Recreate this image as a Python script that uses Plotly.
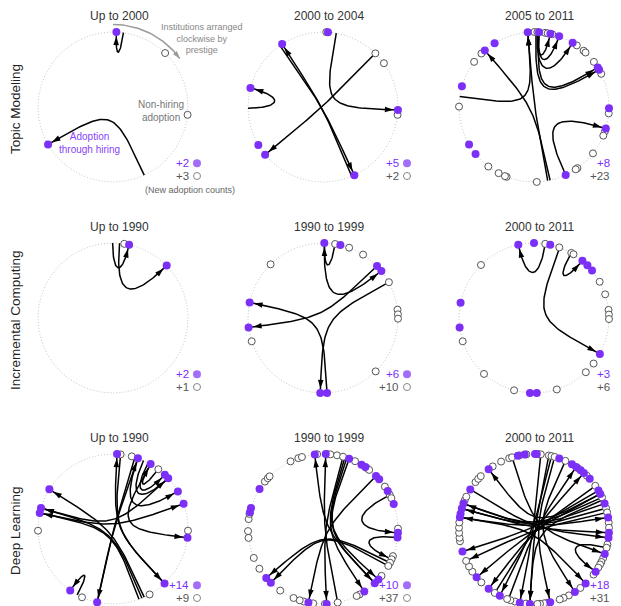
import numpy as np
import plotly.graph_objects as go

# ---------------- data ----------------
row_labels = ["Topic Modeling", "Incremental Computing", "Deep Learning"]
period_labels = [
    ["Up to 2000", "2000 to 2004", "2005 to 2011"],
    ["Up to 1990", "1990 to 1999", "2000 to 2011"],
    ["Up to 1990", "1990 to 1999", "2000 to 2011"],
]
new_hiring_counts = [[2, 5, 8], [2, 6, 3], [14, 10, 18]]
new_nonhiring_counts = [[3, 2, 23], [1, 10, 6], [9, 37, 31]]

# Institution positions: degrees clockwise from top (prestige order)
# Edges: (PhD institution angle, hiring institution angle)
tm1_hiring = [2.6, 240]
tm1_nonhiring = [44, 96]
tm1_edges = [(8, 2.6), (155.4, 240)]

tm2_hiring = [3.8, 92.3, 155.3, 230.5, 239.6, 284.7, 327]
tm2_nonhiring = [2.5, 44.3, 54.3, 96]
tm2_edges = [(10.2, 92.3), (269, 284.7), (325, 155.3), (157.5, 327), (44.3, 230.5)]

tm3_hiring = [355.2, 3.8, 12.6, 19.6, 31, 58.2, 60.2, 91, 106.7, 155, 231.2, 240,
              286, 319, 328.3]
tm3_nonhiring = [0.3, 2.6, 8.5, 10.5, 14.1, 34.8, 41.4, 43.4, 53, 63.7, 94.9, 109,
                 112.5, 128.2, 144.6, 146.2, 177.9, 201.4, 202.8, 208.1, 217.5,
                 270.3, 307, 315.5]
tm3_edges = [(278, 355.2), (167.6, 319), (169.5, 355.2), (3, 12.6), (3.5, 19.6),
             (2.5, 31), (1.5, 60.2), (4, 58.2), (155, 106.7)]

ic1_hiring = [12.4, 45.7]
ic1_nonhiring = [8.6]
ic1_edges = [(359.7, 12.4), (5, 45.7)]

ic2_hiring = [1, 13.4, 46.1, 51.1, 176.9, 182.1, 262.8, 282]
ic2_nonhiring = [9.3, 20.4, 32.3, 61.5, 83.6, 87.2, 90.5, 135.4, 251.9, 315.7]
ic2_edges = [(9.3, 1), (1, 51.1), (46.1, 262.8), (176.9, 282), (61.5, 182.1)]

ic3_hiring = [347.9, 0, 12.5, 40.2, 45.4, 50.7, 118.6, 177.9, 183.1, 262.7, 281.8]
ic3_nonhiring = [8.6, 19.7, 29.8, 31.8, 61.1, 71.6, 83.8, 87.4, 90.8, 127.4, 136.3,
                 162.3, 195.4, 221.8, 251.9, 315]
ic3_edges = [(8.6, 347.9), (29.8, 40.2), (20, 118.6)]

dl1_hiring = [3.1, 19.4, 30.1, 43.7, 47.4, 59.9, 70.3, 96.7, 136.6, 192.2, 214.8,
              282.3, 286.3, 302]
dl1_nonhiring = [5.8, 14.5, 37.2, 91.3, 150.8, 204.4, 268.7]
dl1_edges = [(136.6, 3.1), (5.8, 136.6), (17, 192.2), (192.2, 19.4), (155.4, 302),
             (157.3, 286.3), (159.7, 282.3), (47.4, 286.3), (19.4, 59.9),
             (282.3, 70.3), (30.1, 96.7), (37.2, 30.1), (28, 43.7), (24, 47.4),
             (208.5, 214.8)]

dl2_hiring = [353.7, 2.1, 20.4, 30.9, 34.4, 45, 48.5, 59.6, 70.5, 92.8, 96.6, 132.3,
              136.4, 146.6, 177.2, 191.2, 224.1, 229.2, 283, 286.3, 302.2]
dl2_nonhiring = [355.5, 3.4, 5.6, 10.8, 15.5, 25.3, 35.5, 38, 55.6, 62.9, 65.7, 89.7,
                 111.2, 113.8, 116.7, 119.5, 128.7, 150.9, 153.3, 168.7, 178.5,
                 187.5, 194.8, 198.1, 203.1, 214.8, 238, 247.3, 263.2, 268.4, 277.6,
                 281.6, 309.2, 312.6, 314.6, 334.4, 340.8, 343.7]
dl2_edges = [(136.4, 353.7), (168.7, 2.1), (15.5, 177.2), (17, 146.6), (18.5, 132.3),
             (45, 191.2), (62.9, 92.8), (96.6, 113.8), (119.5, 224.1),
             (116.7, 229.2), (20.4, 136.4)]

dl3_hiring = [347.6, 352.9, 0.8, 2.1, 19.7, 30.4, 34.2, 38.5, 41.7, 48, 59.2, 62.1,
              70.2, 81.1, 92.8, 96.7, 109.4, 124.7, 136.5, 147, 167.5, 183.1, 190.9,
              207.1, 217.2, 229.9, 252.5, 279, 281.7, 285.8, 289.8, 301.8, 322.8]
dl3_nonhiring = [334, 340.7, 343, 348.9, 354.2, 3.4, 5.2, 11.4, 13.5, 16, 24.7, 35.9,
                 44.8, 54.8, 65.1, 73.9, 77.2, 85.1, 89, 101.9, 104.5, 112.7, 116.1,
                 118.2, 121, 127.4, 141.8, 152.3, 156.7, 159.9, 170.1, 172.2, 175.4,
                 177.4, 186.1, 194.8, 198.3, 201, 211.5, 224.6, 235.3, 240, 244.8,
                 260.6, 263.3, 267.1, 271, 275, 292.6, 295.5, 308.7, 312, 314.8,
                 326.6]
dl3_edges = [(62.1, 322.8), (65.1, 289.8), (70.2, 285.8), (73.9, 279), (59.2, 252.5),
             (77.2, 244.8), (289.8, 81.1), (285.8, 92.8), (62.1, 229.9),
             (55, 217.2), (5.2, 190.9), (11.4, 183.1), (13.5, 207.1), (16, 167.5),
             (343, 109.4), (24.7, 147), (200, 34.2), (211.5, 41.7), (104.5, 124.7),
             (279, 136.5), (301.8, 96.7), (67, 183.1)]

panels = [
    [(tm1_hiring, tm1_nonhiring, tm1_edges), (tm2_hiring, tm2_nonhiring, tm2_edges),
     (tm3_hiring, tm3_nonhiring, tm3_edges)],
    [(ic1_hiring, ic1_nonhiring, ic1_edges), (ic2_hiring, ic2_nonhiring, ic2_edges),
     (ic3_hiring, ic3_nonhiring, ic3_edges)],
    [(dl1_hiring, dl1_nonhiring, dl1_edges), (dl2_hiring, dl2_nonhiring, dl2_edges),
     (dl3_hiring, dl3_nonhiring, dl3_edges)],
]

prestige_arc = (0, 54)   # degrees, illustrative clockwise arrow

# ---------------- layout constants ----------------
# the page body has an 8px margin, so the figure is placed 8px in from the window
OFF = 8
WIN_W, WIN_H = 621, 606
W, H = WIN_W - OFF, WIN_H - OFF
R = 75.0
col_cx = [113 - OFF, 323 - OFF, 534 - OFF]
row_cy = [107 - OFF, 318 - OFF, 529 - OFF]
PAD = 92
PURPLE = "#7b2ff7"
FONT = "Liberation Sans, Arial, Helvetica, sans-serif"


def pos(theta, r=1.0):
    t = np.radians(theta)
    return np.array([r * np.sin(t), r * np.cos(t)])


def curve(a, b):
    p0, p3 = pos(a), pos(b)
    chord = np.linalg.norm(p3 - p0)
    k = 0.3 + 0.7 * min(chord / 1.2, 1.0)
    c1, c2 = p0 * (1 - k), p3 * (1 - k)
    t = np.linspace(0, 1, 60)[:, None]
    return ((1 - t) ** 3 * p0 + 3 * (1 - t) ** 2 * t * c1
            + 3 * (1 - t) * t ** 2 * c2 + t ** 3 * p3)


def head_angle(pts, back=0.12):
    end = pts[-1]
    q = pts[0]
    for p in pts[::-1]:
        if np.linalg.norm(end - p) >= back:
            q = p
            break
    d = end - q
    return float(np.degrees(np.arctan2(d[0], d[1])))


fig = go.Figure()
annotations = []
layout_axes = {}

for r in range(3):
    for c in range(3):
        n = r * 3 + c + 1
        xa = "x" if n == 1 else f"x{n}"
        ya = "y" if n == 1 else f"y{n}"
        cx, cy = col_cx[c], row_cy[r]
        x0, x1 = max(cx - PAD, 0), min(cx + PAD, W)
        y0, y1 = max(cy - PAD, 0), min(cy + PAD, H)
        layout_axes["xaxis" if n == 1 else f"xaxis{n}"] = dict(
            domain=[x0 / W, x1 / W], range=[(x0 - cx) / R, (x1 - cx) / R],
            visible=False, fixedrange=True, anchor=ya)
        layout_axes["yaxis" if n == 1 else f"yaxis{n}"] = dict(
            domain=[1 - y1 / H, 1 - y0 / H], range=[-(y1 - cy) / R, (cy - y0) / R],
            visible=False, fixedrange=True, anchor=xa)

        hiring, nonhiring, edges = panels[r][c]

        # boundary circle
        th = np.linspace(0, 360, 361)
        circ = np.array([pos(t) for t in th])
        fig.add_trace(go.Scatter(x=circ[:, 0], y=circ[:, 1], mode="lines",
                                 line=dict(color="#c6c6c6", width=1, dash="1px,2px"),
                                 hoverinfo="skip", xaxis=xa, yaxis=ya))

        # hiring edges
        ex, ey, hx, hy, ha = [], [], [], [], []
        for a, b in edges:
            pts = curve(a, b)
            ex += list(pts[:, 0]) + [None]
            ey += list(pts[:, 1]) + [None]
            hx.append(pts[-1, 0])
            hy.append(pts[-1, 1])
            ha.append(head_angle(pts))
        fig.add_trace(go.Scatter(x=ex, y=ey, mode="lines",
                                 line=dict(color="black", width=1.5),
                                 hoverinfo="skip", xaxis=xa, yaxis=ya))

        # institutions
        nh = np.array([pos(t) for t in nonhiring])
        fig.add_trace(go.Scatter(x=nh[:, 0], y=nh[:, 1], mode="markers",
                                 marker=dict(symbol="circle", size=7, color="white",
                                             line=dict(color="#555555", width=1)),
                                 cliponaxis=False, hoverinfo="skip",
                                 xaxis=xa, yaxis=ya))
        hp = np.array([pos(t) for t in hiring])
        fig.add_trace(go.Scatter(x=hp[:, 0], y=hp[:, 1], mode="markers",
                                 marker=dict(symbol="circle", size=8, color=PURPLE,
                                             line=dict(width=0)),
                                 cliponaxis=False, hoverinfo="skip",
                                 xaxis=xa, yaxis=ya))
        # arrow heads
        fig.add_trace(go.Scatter(x=hx, y=hy, mode="markers",
                                 marker=dict(symbol="arrow", size=9, color="black",
                                             angle=ha, standoff=4.5,
                                             line=dict(width=0)),
                                 cliponaxis=False, hoverinfo="skip",
                                 xaxis=xa, yaxis=ya))

        # count legend markers
        fig.add_trace(go.Scatter(x=[1.12, 1.12], y=[-0.75, -0.92], mode="markers",
                                 marker=dict(symbol="circle", size=[8, 7],
                                             color=[PURPLE, "white"],
                                             line=dict(color=["#555555", "#555555"],
                                                       width=[0, 1])),
                                 cliponaxis=False, hoverinfo="skip",
                                 xaxis=xa, yaxis=ya))
        annotations.append(dict(text=f"+{new_hiring_counts[r][c]}", x=1.04, y=-0.75,
                                xref=xa, yref=ya, xanchor="right", yanchor="middle",
                                showarrow=False,
                                font=dict(family=FONT, size=11.5, color=PURPLE)))
        annotations.append(dict(text=f"+{new_nonhiring_counts[r][c]}", x=1.04,
                                y=-0.92, xref=xa, yref=ya, xanchor="right",
                                yanchor="middle", showarrow=False,
                                font=dict(family=FONT, size=11.5, color="#555555")))
        # period title
        annotations.append(dict(text=period_labels[r][c], x=0.08, y=1.21, xref=xa,
                                yref=ya, xanchor="center", yanchor="middle",
                                showarrow=False,
                                font=dict(family=FONT, size=12, color="#333333")))

    annotations.append(dict(text=row_labels[r], x=(15 - OFF) / W,
                            y=1 - (row_cy[r] + 2) / H,
                            xref="paper", yref="paper", xanchor="center",
                            yanchor="middle", textangle=-90, showarrow=False,
                            font=dict(family=FONT, size=13.5, color="#222222")))

# explanatory annotations in the first panel
arc_t = np.linspace(prestige_arc[0], prestige_arc[1], 40)
arc = np.array([pos(t, 1.1) for t in arc_t])
fig.add_trace(go.Scatter(x=arc[:, 0], y=arc[:, 1], mode="lines",
                         line=dict(color="#9a9a9a", width=1.5), hoverinfo="skip",
                         xaxis="x", yaxis="y"))
fig.add_trace(go.Scatter(x=[arc[-1, 0]], y=[arc[-1, 1]], mode="markers",
                         marker=dict(symbol="arrow", size=8, color="#9a9a9a",
                                     angle=[head_angle(arc, 0.1)], line=dict(width=0)),
                         cliponaxis=False, hoverinfo="skip", xaxis="x", yaxis="y"))
annotations += [
    dict(text="Institutions arranged<br>clockwise by<br>prestige", x=1.18, y=0.91,
         xref="x", yref="y", xanchor="center", yanchor="middle", showarrow=False,
         font=dict(family=FONT, size=9, color="#888888")),
    dict(text="Non-hiring<br>adoption", x=0.64, y=-0.05, xref="x", yref="y",
         xanchor="center", yanchor="middle", showarrow=False,
         font=dict(family=FONT, size=10, color="#777777")),
    dict(text="Adoption<br>through hiring", x=-0.32, y=-0.48, xref="x", yref="y",
         xanchor="center", yanchor="middle", showarrow=False,
         font=dict(family=FONT, size=10, color="#8844f8")),
    dict(text="(New adoption counts)", x=1.03, y=-1.1, xref="x", yref="y",
         xanchor="center", yanchor="middle", showarrow=False,
         font=dict(family=FONT, size=9, color="#666666")),
]

fig.update_layout(width=W, height=H, margin=dict(l=0, r=0, t=0, b=0),
                  paper_bgcolor="white", plot_bgcolor="white", showlegend=False,
                  annotations=annotations, **layout_axes)

fig.write_html("out.html")
